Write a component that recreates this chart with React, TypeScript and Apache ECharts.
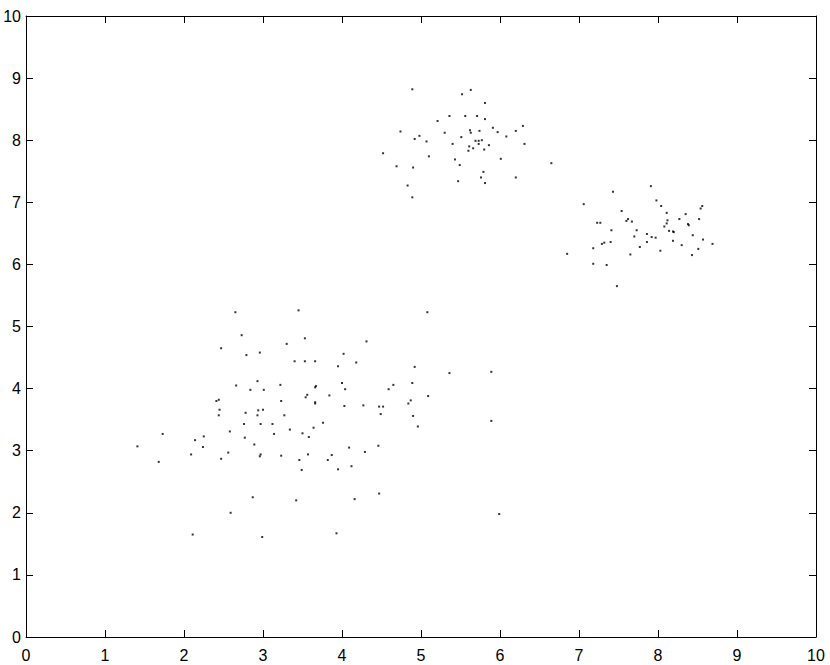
import React, { useEffect, useRef } from "react";
import * as echarts from "echarts";

const xTicks = [0, 1, 2, 3, 4, 5, 6, 7, 8, 9, 10];
const yTicks = [0, 1, 2, 3, 4, 5, 6, 7, 8, 9, 10];

// Bottom-left cluster
const cluster1X = [2.65, 2.73, 2.47, 2.79, 2.66, 2.84, 2.44, 2.41, 2.45, 2.78, 2.44, 2.76,
  3.45, 3.53, 3.30, 2.96, 4.31, 4.02, 3.40, 3.53, 3.66, 4.18, 3.95, 2.93, 4.00, 3.22, 3.67, 3.66,
  3.01, 4.04, 3.56, 3.54, 3.84, 3.23, 3.66, 3.66, 4.03, 4.27, 4.47, 2.94, 3.00, 2.93, 3.27, 2.97, 3.12, 3.76,
  5.08, 4.92, 5.36, 5.89, 4.89, 4.65, 4.59, 5.09, 4.87, 4.84, 4.52, 4.49, 4.90, 5.89,
  1.73, 2.58, 2.25, 2.77, 2.14, 2.89, 1.41, 2.24, 2.56, 2.09, 2.47, 1.68, 2.87, 2.59, 2.11,
  3.34, 3.64, 3.14, 3.50, 3.58, 4.09, 4.46, 4.29, 2.97, 2.96, 3.23, 3.57, 3.87, 3.46, 3.82, 4.12,
  3.49, 3.95, 3.42, 4.16, 4.47, 2.99, 3.93, 4.96, 5.99];
const cluster1Y = [5.23, 4.86, 4.65, 4.54, 4.05, 3.98, 3.82, 3.80, 3.66, 3.61, 3.57, 3.43,
  5.26, 4.81, 4.72, 4.58, 4.76, 4.56, 4.44, 4.44, 4.44, 4.42, 4.36, 4.12, 4.09, 4.06, 4.04, 4.02,
  3.98, 3.99, 3.90, 3.86, 3.89, 3.80, 3.78, 3.76, 3.72, 3.73, 3.71, 3.65, 3.66, 3.57, 3.57, 3.43, 3.43, 3.45,
  5.23, 4.35, 4.25, 4.27, 4.09, 4.06, 3.99, 3.88, 3.81, 3.76, 3.71, 3.59, 3.56, 3.48,
  3.27, 3.31, 3.23, 3.21, 3.17, 3.10, 3.07, 3.06, 2.97, 2.94, 2.87, 2.82, 2.25, 2.00, 1.65,
  3.34, 3.37, 3.27, 3.28, 3.22, 3.05, 3.08, 2.98, 2.94, 2.91, 2.92, 2.94, 2.93, 2.85, 2.85, 2.75,
  2.69, 2.70, 2.20, 2.22, 2.31, 1.61, 1.67, 3.39, 1.98];

// Top-middle cluster
const cluster2X = [4.89, 5.52, 5.36, 5.56, 5.21, 4.74, 4.98, 4.92, 5.30, 5.51, 5.07, 5.40, 5.61, 5.60,
  4.52, 5.10, 5.43, 5.49, 4.69, 4.90, 5.47, 4.83, 4.89,
  5.63, 5.81, 5.71, 5.81, 5.91, 6.29, 6.20, 5.62, 5.63, 5.74, 5.97, 6.08, 5.69, 5.73, 5.77, 5.73,
  5.86, 6.31, 5.66, 5.80, 6.01, 6.65, 5.79, 5.76, 6.20, 5.81];
const cluster2Y = [8.82, 8.74, 8.39, 8.39, 8.31, 8.14, 8.07, 8.02, 8.12, 8.05, 7.98, 7.94, 7.90, 7.83,
  7.79, 7.74, 7.69, 7.60, 7.58, 7.56, 7.34, 7.27, 7.08,
  8.81, 8.60, 8.39, 8.34, 8.20, 8.23, 8.15, 8.16, 8.12, 8.15, 8.13, 8.06, 7.99, 7.99, 8.00, 7.94,
  7.92, 7.94, 7.87, 7.85, 7.70, 7.63, 7.49, 7.40, 7.40, 7.31];

// Right cluster
const cluster3X = [7.43, 7.06, 7.54, 7.62, 7.60, 7.67, 7.23, 7.27, 7.41, 7.73, 7.70, 7.40, 7.32, 7.29,
  7.77, 7.18, 7.65, 6.85, 7.18, 7.35, 7.48,
  7.91, 7.98, 8.04, 8.56, 8.54, 8.11, 8.35, 8.27, 8.52, 8.12, 8.11, 8.38, 8.39, 8.08, 8.14, 8.19,
  8.20, 7.86, 8.44, 7.92, 7.97, 8.57, 7.86, 8.19, 8.69, 8.30, 8.51, 8.03, 8.43];
const cluster3Y = [7.17, 6.97, 6.86, 6.73, 6.70, 6.69, 6.67, 6.67, 6.55, 6.55, 6.45, 6.36, 6.35, 6.33,
  6.28, 6.26, 6.16, 6.17, 6.01, 5.99, 5.65,
  7.26, 7.03, 6.94, 6.94, 6.90, 6.83, 6.81, 6.73, 6.73, 6.71, 6.66, 6.65, 6.63, 6.61, 6.54, 6.53,
  6.52, 6.49, 6.47, 6.44, 6.43, 6.40, 6.36, 6.38, 6.33, 6.31, 6.25, 6.22, 6.15];

const allX = [...cluster1X, ...cluster2X, ...cluster3X];
const allY = [...cluster1Y, ...cluster2Y, ...cluster3Y];

export default function App() {
  const ref = useRef<HTMLDivElement>(null);
  useEffect(() => {
    if (!ref.current) return;
    const chart = echarts.init(ref.current, null, { renderer: "svg" });
    const font = "Liberation Sans, Arial, Helvetica, sans-serif";
    const axisCommon = {
      type: "value" as const,
      min: 0,
      max: 10,
      interval: 1,
      axisLine: { show: true, onZero: false, lineStyle: { color: "#000", width: 1 } },
      axisTick: { show: true, inside: true, length: 7, lineStyle: { color: "#000" } },
      splitLine: { show: false },
    };
    chart.setOption({
      animation: false,
      backgroundColor: "#fff",
      grid: { left: 26, right: 14, top: 16, bottom: 28, containLabel: false },
      xAxis: [
        {
          ...axisCommon,
          position: "bottom",
          axisLabel: {
            show: true, margin: 10, color: "#000", fontSize: 16, fontFamily: font,
            formatter: (v: number) => (xTicks.includes(v) ? String(v) : ""),
          },
        },
        { ...axisCommon, position: "top", axisLabel: { show: false } },
      ],
      yAxis: [
        {
          ...axisCommon,
          position: "left",
          axisLabel: {
            show: true, margin: 5, color: "#000", fontSize: 16, fontFamily: font,
            formatter: (v: number) => (yTicks.includes(v) ? String(v) : ""),
          },
        },
        { ...axisCommon, position: "right", axisLabel: { show: false } },
      ],
      series: [
        {
          type: "scatter",
          symbol: "rect",
          symbolSize: 2,
          itemStyle: { color: "#000" },
          data: allX.map((x, i) => [x, allY[i]]),
        },
      ],
    });
    return () => chart.dispose();
  }, []);
  return <div ref={ref} style={{ width: 830, height: 665, position: "absolute", left: 0, top: 0 }} />;
}
